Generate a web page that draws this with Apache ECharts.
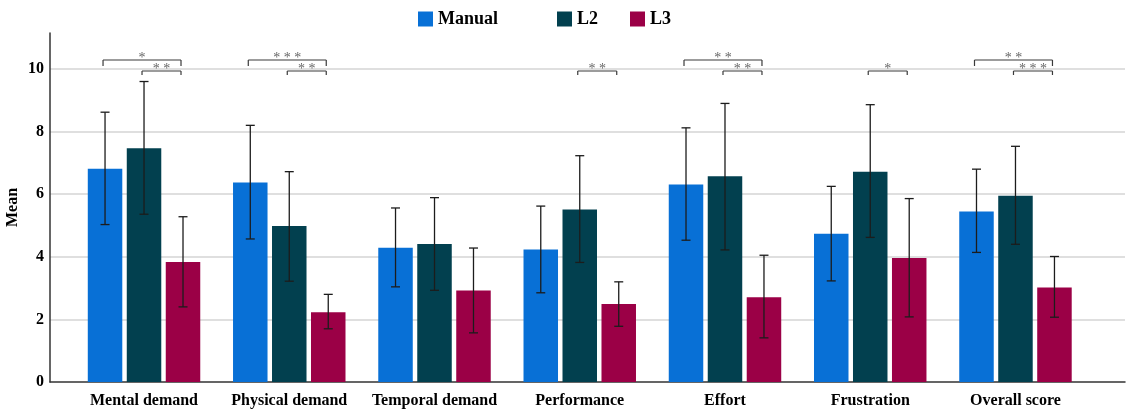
<!DOCTYPE html>
<html>
<head>
<meta charset="utf-8">
<script src="https://cdn.jsdelivr.net/npm/echarts@6/dist/echarts.min.js"></script>
<style>
html,body{margin:0;padding:0;background:#fff;}
#chart{width:1127px;height:414px;}
</style>
</head>
<body>
<div id="chart"></div>
<script>
// ---- data ----
const categories = ['Mental demand','Physical demand','Temporal demand','Performance','Effort','Frustration','Overall score'];
const groups = ['Manual','L2','L3'];
const yTicks = [0, 2, 4, 6, 8, 10];

const manualMean = [6.81, 6.37, 4.29, 4.23, 6.31, 4.74, 5.45];
const manualLow  = [5.03, 4.57, 3.04, 2.85, 4.53, 3.23, 4.14];
const manualHigh = [8.62, 8.20, 5.56, 5.62, 8.12, 6.25, 6.80];

const l2Mean = [7.47, 4.98, 4.41, 5.51, 6.57, 6.72, 5.95];
const l2Low  = [5.36, 3.22, 2.93, 3.82, 4.22, 4.62, 4.40];
const l2High = [9.60, 6.72, 5.89, 7.23, 8.90, 8.86, 7.53];

const l3Mean = [3.83, 2.23, 2.92, 2.49, 2.71, 3.96, 3.02];
const l3Low  = [2.40, 1.70, 1.57, 1.78, 1.41, 2.08, 2.07];
const l3High = [5.28, 2.80, 4.28, 3.20, 4.05, 5.86, 4.01];

// significance: [category index, group A, group B, stars]
const sigPairs = [
  [0, 'Manual', 'L3', '*'],
  [0, 'L2', 'L3', '* *'],
  [1, 'Manual', 'L3', '* * *'],
  [1, 'L2', 'L3', '* *'],
  [3, 'L2', 'L3', '* *'],
  [4, 'Manual', 'L3', '* *'],
  [4, 'L2', 'L3', '* *'],
  [5, 'L2', 'L3', '*'],
  [6, 'Manual', 'L3', '* *'],
  [6, 'L2', 'L3', '* * *']
];

// ---- styling ----
const colors = {Manual: '#0870d6', L2: '#02404f', L3: '#9b0046'};
const FONT = '"Liberation Serif","DejaVu Serif",serif';
const BAR_W = 34.5;
const GAP_PCT = 13;
const BAR_STEP = BAR_W * (1 + GAP_PCT / 100);
const Y_MAX = 11.15;

const means = {Manual: manualMean, L2: l2Mean, L3: l3Mean};
const lows = {Manual: manualLow, L2: l2Low, L3: l3Low};
const highs = {Manual: manualHigh, L2: l2High, L3: l3High};

function offsetOf(g) { return (groups.indexOf(g) - 1) * BAR_STEP; }

function errRender(g) {
  return function (params, api) {
    const cat = api.value(0);
    const lo = api.coord([cat, api.value(1)]);
    const hi = api.coord([cat, api.value(2)]);
    const x = lo[0] + offsetOf(g);
    const cap = 4.5;
    const st = {stroke: '#1c1c1c', lineWidth: 1.3};
    return {type: 'group', children: [
      {type: 'line', shape: {x1: x, y1: hi[1], x2: x, y2: lo[1]}, style: st},
      {type: 'line', shape: {x1: x - cap, y1: hi[1], x2: x + cap, y2: hi[1]}, style: st},
      {type: 'line', shape: {x1: x - cap, y1: lo[1], x2: x + cap, y2: lo[1]}, style: st}
    ]};
  };
}

function sigRender(params, api) {
  const p = sigPairs[params.dataIndex];
  const cat = api.value(0);
  const base = api.coord([cat, 10]);
  const upper = (p[1] === 'Manual' && p[2] === 'L3');
  const yLine = upper ? base[1] - 9 : base[1] + 2;
  const leg = upper ? 6 : 4;
  const xa = base[0] + offsetOf(p[1]) - 2;
  const xb = base[0] + offsetOf(p[2]) - 2;
  const st = {stroke: '#3a3a3a', lineWidth: 1.2};
  return {type: 'group', children: [
    {type: 'line', shape: {x1: xa, y1: yLine + leg, x2: xa, y2: yLine}, style: st},
    {type: 'line', shape: {x1: xa, y1: yLine, x2: xb, y2: yLine}, style: st},
    {type: 'line', shape: {x1: xb, y1: yLine, x2: xb, y2: yLine + leg}, style: st},
    {type: 'text', x: (xa + xb) / 2, y: yLine + 5, style: {
      text: p[3], fill: '#666', font: '14px ' + FONT, textAlign: 'center', textVerticalAlign: 'bottom'
    }}
  ]};
}

const series = [];
groups.forEach(function (g) {
  series.push({
    name: g, type: 'bar', xAxisIndex: 1, yAxisIndex: 1,
    barWidth: BAR_W, barGap: GAP_PCT + '%',
    itemStyle: {color: colors[g]},
    data: means[g]
  });
});
groups.forEach(function (g) {
  series.push({
    name: g + ' err', type: 'custom', xAxisIndex: 1, yAxisIndex: 1, z: 5,
    renderItem: errRender(g),
    encode: {x: 0, y: [1, 2]},
    data: categories.map(function (c, i) { return [i, lows[g][i], highs[g][i]]; })
  });
});
series.push({
  name: 'sig', type: 'custom', xAxisIndex: 1, yAxisIndex: 1, z: 6,
  renderItem: sigRender,
  encode: {x: 0, y: 1},
  data: sigPairs.map(function (p) { return [p[0], 10]; })
});

const legendText = {color: '#000', fontSize: 18, fontWeight: 'bold', fontFamily: FONT};
function mkLegend(name, left) {
  return {data: [name], left: left, top: 10, padding: 0, icon: 'rect', itemWidth: 15, itemHeight: 15,
    textStyle: legendText, selectedMode: false};
}

const option = {
  animation: false,
  backgroundColor: '#fff',
  legend: [mkLegend('Manual', 418), mkLegend('L2', 557), mkLegend('L3', 630)],
  grid: [
    {left: 50, right: 2, top: 33, bottom: 32, containLabel: false, outerBoundsMode: 'none'},
    {left: 71.4, right: 38.9, top: 33, bottom: 32, containLabel: false, outerBoundsMode: 'none'}
  ],
  xAxis: [
    {gridIndex: 0, type: 'value', min: 0, max: 1,
      axisLine: {show: true, onZero: false, lineStyle: {color: '#333', width: 1.5}},
      axisTick: {show: false}, axisLabel: {show: false}, splitLine: {show: false}},
    {gridIndex: 1, type: 'category', data: categories,
      axisLine: {show: false}, axisTick: {show: false},
      axisLabel: {color: '#000', fontSize: 16, fontWeight: 'bold', fontFamily: FONT, margin: 11, interval: 0}}
  ],
  yAxis: [
    {gridIndex: 0, type: 'value', min: 0, max: Y_MAX, interval: 2,
      name: 'Mean', nameLocation: 'middle', nameGap: 29, nameMoveOverlap: false,
      nameTextStyle: {color: '#000', fontSize: 16, fontWeight: 'bold', fontFamily: FONT},
      axisLine: {show: true, lineStyle: {color: '#333', width: 1.5}},
      axisTick: {show: false},
      axisLabel: {color: '#000', fontSize: 16, fontWeight: 'bold', fontFamily: FONT, margin: 6,
        showMaxLabel: false,
        formatter: function (v) { return yTicks.indexOf(v) >= 0 ? String(v) : ''; }},
      splitLine: {show: true, showMinLine: false, showMaxLine: false, lineStyle: {color: '#d4d4d4', width: 1.5}}},
    {gridIndex: 1, type: 'value', min: 0, max: Y_MAX, show: false, splitLine: {show: false}}
  ],
  series: series
};

const chart = echarts.init(document.getElementById('chart'), null, {renderer: 'canvas'});
chart.setOption(option);
</script>
</body>
</html>
